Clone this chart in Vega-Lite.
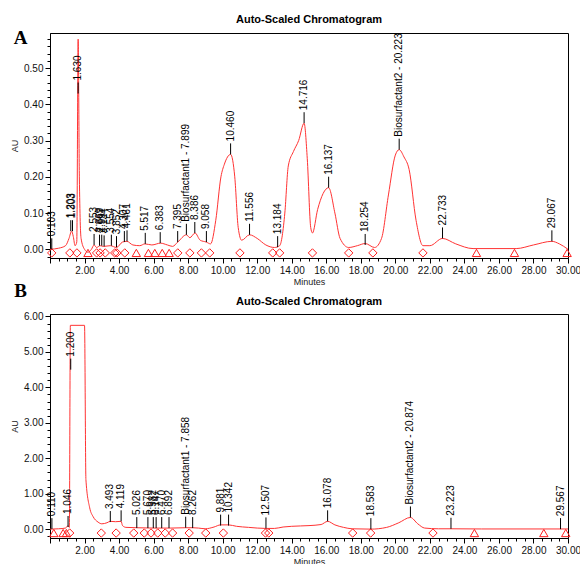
{
  "$schema": "https://vega.github.io/schema/vega-lite/v6.json",
  "padding": {"left": 10, "top": 13, "right": 0, "bottom": 0},
  "config": {
    "font": "Liberation Sans",
    "view": {"stroke": "black", "strokeWidth": 1},
    "title": {"fontSize": 11, "fontWeight": "bold", "font": "Liberation Sans", "color": "#000", "offset": 4},
    "axis": {"domainColor": "#000", "tickColor": "#000", "labelColor": "#111", "labelFontSize": 10, "titleFontSize": 9, "titleFontWeight": "normal", "titleColor": "#222", "grid": false, "labelFont": "Liberation Sans", "titleFont": "Liberation Sans"}
  },
  "datasets": {
    "curveA": [
      {"t": 0, "au": 0}, {"t": 0.5, "au": 0.003}, {"t": 0.9, "au": 0.01}, {"t": 1.1, "au": 0.03}, {"t": 1.25, "au": 0.05}, {"t": 1.35, "au": 0.035}, {"t": 1.45, "au": 0.01}, {"t": 1.55, "au": 0.02}, {"t": 1.63, "au": 0.58}, {"t": 1.7, "au": 0.2}, {"t": 1.8, "au": 0.03}, {"t": 2.0, "au": 0.0}, {"t": 2.2, "au": -0.008}, {"t": 2.4, "au": 0.0}, {"t": 2.55, "au": 0.012}, {"t": 2.7, "au": 0.005}, {"t": 2.9, "au": 0.01}, {"t": 3.1, "au": 0.008}, {"t": 3.5, "au": 0.01}, {"t": 3.85, "au": 0.005}, {"t": 4.2, "au": 0.02}, {"t": 4.45, "au": 0.022}, {"t": 4.8, "au": 0.012}, {"t": 5.2, "au": 0.01}, {"t": 5.5, "au": 0.015}, {"t": 5.9, "au": 0.012}, {"t": 6.4, "au": 0.017}, {"t": 6.8, "au": 0.012}, {"t": 7.1, "au": 0.008}, {"t": 7.4, "au": 0.02}, {"t": 7.9, "au": 0.04}, {"t": 8.1, "au": 0.032}, {"t": 8.4, "au": 0.045}, {"t": 8.7, "au": 0.025}, {"t": 9.05, "au": 0.02}, {"t": 9.3, "au": 0.015}, {"t": 9.6, "au": 0.08}, {"t": 9.9, "au": 0.2}, {"t": 10.1, "au": 0.235}, {"t": 10.46, "au": 0.262}, {"t": 10.7, "au": 0.2}, {"t": 10.9, "au": 0.06}, {"t": 11.1, "au": 0.025}, {"t": 11.556, "au": 0.04}, {"t": 12.0, "au": 0.03}, {"t": 12.5, "au": 0.012}, {"t": 13.0, "au": 0.005}, {"t": 13.3, "au": 0.01}, {"t": 13.6, "au": 0.1}, {"t": 13.8, "au": 0.23}, {"t": 14.1, "au": 0.27}, {"t": 14.4, "au": 0.3}, {"t": 14.716, "au": 0.348}, {"t": 14.9, "au": 0.25}, {"t": 15.1, "au": 0.06}, {"t": 15.2, "au": 0.045}, {"t": 15.5, "au": 0.11}, {"t": 16.137, "au": 0.17}, {"t": 16.5, "au": 0.1}, {"t": 16.8, "au": 0.03}, {"t": 17.3, "au": 0.005}, {"t": 17.8, "au": 0.01}, {"t": 18.254, "au": 0.016}, {"t": 18.8, "au": 0.005}, {"t": 19.2, "au": 0.03}, {"t": 19.6, "au": 0.15}, {"t": 20.0, "au": 0.26}, {"t": 20.223, "au": 0.275}, {"t": 20.5, "au": 0.255}, {"t": 20.8, "au": 0.22}, {"t": 21.2, "au": 0.08}, {"t": 21.6, "au": 0.01}, {"t": 22.0, "au": 0.01}, {"t": 22.733, "au": 0.03}, {"t": 23.5, "au": 0.015}, {"t": 24.5, "au": 0.002}, {"t": 27.0, "au": 0.002}, {"t": 28.0, "au": 0.012}, {"t": 29.067, "au": 0.022}, {"t": 29.5, "au": 0.015}, {"t": 30.0, "au": 0.0}
    ],
    "markA": [
      {"t": 0.1, "type": "diamond"}, {"t": 1.15, "type": "diamond"}, {"t": 1.56, "type": "diamond"}, {"t": 2.7, "type": "diamond"}, {"t": 2.9, "type": "diamond"}, {"t": 3.2, "type": "diamond"}, {"t": 3.75, "type": "diamond"}, {"t": 3.87, "type": "diamond"}, {"t": 4.33, "type": "diamond"}, {"t": 7.4, "type": "diamond"}, {"t": 8.1, "type": "diamond"}, {"t": 8.77, "type": "diamond"}, {"t": 9.25, "type": "diamond"}, {"t": 11.0, "type": "diamond"}, {"t": 12.9, "type": "diamond"}, {"t": 13.3, "type": "diamond"}, {"t": 15.2, "type": "diamond"}, {"t": 17.3, "type": "diamond"}, {"t": 18.7, "type": "diamond"}, {"t": 21.6, "type": "diamond"},
      {"t": 2.2, "type": "triangle"}, {"t": 5.0, "type": "triangle"}, {"t": 5.7, "type": "triangle"}, {"t": 6.07, "type": "triangle"}, {"t": 6.5, "type": "triangle"}, {"t": 6.9, "type": "triangle"}, {"t": 24.7, "type": "triangle"}, {"t": 26.9, "type": "triangle"}, {"t": 29.95, "type": "triangle"}
    ],
    "labA": [
      {"t": 0.103, "h": 0.0, "label": "0.103"}, {"t": 1.203, "h": 0.05, "label": "1.203"}, {"t": 1.303, "h": 0.05, "label": "1.303"}, {"t": 1.63, "h": 0.43, "label": "1.630"},
      {"t": 2.553, "h": 0.012, "label": "2.553"}, {"t": 2.869, "h": 0.01, "label": "2.869"}, {"t": 2.997, "h": 0.01, "label": "2.997"}, {"t": 3.134, "h": 0.008, "label": "3.134"}, {"t": 3.554, "h": 0.01, "label": "3.554"}, {"t": 3.852, "h": 0.006, "label": "3.852"}, {"t": 4.307, "h": 0.02, "label": "4.307"}, {"t": 4.461, "h": 0.022, "label": "4.461"},
      {"t": 5.517, "h": 0.015, "label": "5.517"}, {"t": 6.383, "h": 0.017, "label": "6.383"}, {"t": 7.395, "h": 0.02, "label": "7.395"}, {"t": 7.899, "h": 0.04, "label": "Biosurfactant1 - 7.899"}, {"t": 8.386, "h": 0.045, "label": "8.386"}, {"t": 9.058, "h": 0.02, "label": "9.058"}, {"t": 10.46, "h": 0.262, "label": "10.460"}, {"t": 11.556, "h": 0.04, "label": "11.556"}, {"t": 13.184, "h": 0.006, "label": "13.184"}, {"t": 14.716, "h": 0.348, "label": "14.716"}, {"t": 16.137, "h": 0.17, "label": "16.137"}, {"t": 18.254, "h": 0.012, "label": "18.254"}, {"t": 20.223, "h": 0.275, "label": "Biosurfactant2 - 20.223"}, {"t": 22.733, "h": 0.03, "label": "22.733"}, {"t": 29.067, "h": 0.022, "label": "29.067"}
    ],
    "letters": [
      {"letter": "A", "t": -1.7, "au": 0.582},
      {"letter": "B", "t": -1.7, "au": -0.115}
    ],
    "curveB": [
      {"t": 0, "au": 0}, {"t": 0.5, "au": 0.01}, {"t": 0.9, "au": 0.03}, {"t": 1.046, "au": 0.1}, {"t": 1.12, "au": 0.05}, {"t": 1.18, "au": 5.75}, {"t": 2.0, "au": 5.75}, {"t": 2.08, "au": 1.4}, {"t": 2.3, "au": 0.6}, {"t": 2.5, "au": 0.35}, {"t": 2.78, "au": 0.2}, {"t": 3.0, "au": 0.15}, {"t": 3.3, "au": 0.18}, {"t": 3.493, "au": 0.22}, {"t": 3.8, "au": 0.21}, {"t": 4.119, "au": 0.22}, {"t": 4.2, "au": 0.1}, {"t": 4.4, "au": 0.05}, {"t": 5.0, "au": 0.04}, {"t": 6.0, "au": 0.03}, {"t": 7.0, "au": 0.03}, {"t": 7.858, "au": 0.04}, {"t": 8.262, "au": 0.04}, {"t": 8.6, "au": 0.03}, {"t": 9.0, "au": 0.01}, {"t": 9.5, "au": 0.06}, {"t": 9.881, "au": 0.12}, {"t": 10.342, "au": 0.12}, {"t": 10.8, "au": 0.08}, {"t": 11.5, "au": 0.05}, {"t": 12.507, "au": 0.02}, {"t": 13.0, "au": 0.02}, {"t": 13.5, "au": 0.06}, {"t": 14.0, "au": 0.08}, {"t": 15.0, "au": 0.1}, {"t": 15.7, "au": 0.13}, {"t": 16.078, "au": 0.22}, {"t": 16.5, "au": 0.12}, {"t": 17.0, "au": 0.05}, {"t": 17.5, "au": 0.01}, {"t": 18.583, "au": 0.0}, {"t": 19.5, "au": 0.05}, {"t": 20.2, "au": 0.18}, {"t": 20.874, "au": 0.33}, {"t": 21.3, "au": 0.15}, {"t": 21.7, "au": 0.03}, {"t": 22.5, "au": 0.01}, {"t": 23.223, "au": 0.01}, {"t": 25.0, "au": 0.005}, {"t": 30.0, "au": 0.005}
    ],
    "markB": [
      {"t": 0.22, "type": "triangle"}, {"t": 0.76, "type": "triangle"}, {"t": 0.95, "type": "triangle"}, {"t": 24.58, "type": "triangle"}, {"t": 28.6, "type": "triangle"}, {"t": 29.87, "type": "triangle"},
      {"t": 1.14, "type": "diamond"}, {"t": 2.97, "type": "diamond"}, {"t": 3.83, "type": "diamond"}, {"t": 4.85, "type": "diamond"}, {"t": 5.46, "type": "diamond"}, {"t": 5.85, "type": "diamond"}, {"t": 6.24, "type": "diamond"}, {"t": 6.67, "type": "diamond"}, {"t": 7.1, "type": "diamond"}, {"t": 8.06, "type": "diamond"}, {"t": 9.02, "type": "diamond"}, {"t": 10.04, "type": "diamond"}, {"t": 12.48, "type": "diamond"}, {"t": 12.67, "type": "diamond"}, {"t": 17.53, "type": "diamond"}, {"t": 18.57, "type": "diamond"}, {"t": 22.18, "type": "diamond"}
    ],
    "labB": [
      {"t": 0.11, "h": 0.0, "label": "0.110"}, {"t": 1.046, "h": 0.06, "label": "1.046"}, {"t": 1.2, "h": 4.5, "label": "1.200"}, {"t": 3.493, "h": 0.2, "label": "3.493"}, {"t": 4.119, "h": 0.22, "label": "4.119"}, {"t": 5.026, "h": 0.03, "label": "5.026"}, {"t": 5.67, "h": 0.03, "label": "5.670"}, {"t": 5.982, "h": 0.03, "label": "5.982"}, {"t": 6.147, "h": 0.03, "label": "6.147"}, {"t": 6.47, "h": 0.03, "label": "6.470"}, {"t": 6.892, "h": 0.03, "label": "6.892"}, {"t": 7.858, "h": 0.04, "label": "Biosurfactant1 - 7.858"}, {"t": 8.262, "h": 0.03, "label": "8.262"}, {"t": 9.881, "h": 0.1, "label": "9.881"}, {"t": 10.342, "h": 0.1, "label": "10.342"}, {"t": 12.507, "h": 0.02, "label": "12.507"}, {"t": 16.078, "h": 0.22, "label": "16.078"}, {"t": 18.583, "h": 0.0, "label": "18.583"}, {"t": 20.874, "h": 0.33, "label": "Biosurfactant2 - 20.874"}, {"t": 23.223, "h": 0.01, "label": "23.223"}, {"t": 29.567, "h": 0.0, "label": "29.567"}
    ]
  },
  "vconcat": [
    {
      "title": "Auto-Scaled Chromatogram",
      "width": 518,
      "height": 225,
      "encoding": {
        "x": {"type": "quantitative", "scale": {"domain": [0, 30], "nice": false, "zero": false}, "title": "Minutes",
          "axis": {"values": [0,0.5,1,1.5,2,2.5,3,3.5,4,4.5,5,5.5,6,6.5,7,7.5,8,8.5,9,9.5,10,10.5,11,11.5,12,12.5,13,13.5,14,14.5,15,15.5,16,16.5,17,17.5,18,18.5,19,19.5,20,20.5,21,21.5,22,22.5,23,23.5,24,24.5,25,25.5,26,26.5,27,27.5,28,28.5,29,29.5,30],
            "labelExpr": "datum.value % 2 == 0 && datum.value > 0 ? format(datum.value, '.2f') : ''",
            "tickSize": {"condition": {"test": "datum.value % 2 == 0", "value": 5}, "value": 3},
            "labelFlush": false, "labelOverlap": false, "titlePadding": 2}},
        "y": {"type": "quantitative", "scale": {"domain": [-0.024, 0.597], "nice": false, "zero": false}, "title": "AU",
          "axis": {"values": [-0.02,0,0.02,0.04,0.06,0.08,0.1,0.12,0.14,0.16,0.18,0.2,0.22,0.24,0.26,0.28,0.3,0.32,0.34,0.36,0.38,0.4,0.42,0.44,0.46,0.48,0.5,0.52,0.54,0.56,0.58],
            "labelExpr": "abs(datum.value*10 - round(datum.value*10)) < 0.01 && datum.value >= 0 ? format(datum.value, '.2f') : ''",
            "tickSize": {"condition": {"test": "abs(datum.value*10 - round(datum.value*10)) < 0.01", "value": 5}, "value": 3},
            "labelOverlap": false, "labelFlush": false, "titlePadding": 4}}
      },
      "layer": [
        {"data": {"name": "curveA"}, "mark": {"type": "line", "color": "#ff3333", "strokeWidth": 1, "clip": true, "interpolate": "monotone"}, "encoding": {"x": {"field": "t"}, "y": {"field": "au"}}},
        {"mark": {"type": "rule", "color": "#ff6666", "strokeWidth": 1}, "encoding": {"y": {"datum": 0.004}}},
        {"data": {"name": "markA"}, "mark": {"type": "point", "filled": false, "color": "#ff2020", "strokeWidth": 1, "size": 70, "opacity": 1},
          "encoding": {"x": {"field": "t"}, "y": {"datum": -0.01},
            "shape": {"field": "type", "type": "nominal", "scale": {"domain": ["diamond", "triangle"], "range": ["diamond", "triangle-up"]}, "legend": null}}},
        {"data": {"name": "labA"}, "mark": {"type": "rule", "color": "#000", "strokeWidth": 1, "y2Offset": -11},
          "encoding": {"x": {"field": "t"}, "y": {"field": "h"}, "y2": {"field": "h"}}},
        {"data": {"name": "labA"}, "mark": {"type": "text", "angle": 270, "align": "left", "baseline": "middle", "dx": 13, "fontSize": 10, "color": "#000", "font": "Liberation Sans"},
          "encoding": {"x": {"field": "t"}, "y": {"field": "h"}, "text": {"field": "label"}}},
        {"data": {"name": "letters"},
          "mark": {"type": "text", "font": "Liberation Serif", "fontWeight": "bold", "fontSize": 19, "color": "#000", "align": "center", "baseline": "middle"},
          "encoding": {"x": {"field": "t"}, "y": {"field": "au"}, "text": {"field": "letter"}}}
      ]
    },
    {
      "title": "Auto-Scaled Chromatogram",
      "width": 518,
      "height": 224,
      "encoding": {
        "x": {"type": "quantitative", "scale": {"domain": [0, 30], "nice": false, "zero": false}, "title": "Minutes",
          "axis": {"values": [0,0.5,1,1.5,2,2.5,3,3.5,4,4.5,5,5.5,6,6.5,7,7.5,8,8.5,9,9.5,10,10.5,11,11.5,12,12.5,13,13.5,14,14.5,15,15.5,16,16.5,17,17.5,18,18.5,19,19.5,20,20.5,21,21.5,22,22.5,23,23.5,24,24.5,25,25.5,26,26.5,27,27.5,28,28.5,29,29.5,30],
            "labelExpr": "datum.value % 2 == 0 && datum.value > 0 ? format(datum.value, '.2f') : ''",
            "tickSize": {"condition": {"test": "datum.value % 2 == 0", "value": 5}, "value": 3},
            "labelFlush": false, "labelOverlap": false, "titlePadding": 2}},
        "y": {"type": "quantitative", "scale": {"domain": [-0.25, 6.07], "nice": false, "zero": false}, "title": "AU",
          "axis": {"values": [-0.2,0,0.2,0.4,0.6,0.8,1,1.2,1.4,1.6,1.8,2,2.2,2.4,2.6,2.8,3,3.2,3.4,3.6,3.8,4,4.2,4.4,4.6,4.8,5,5.2,5.4,5.6,5.8,6],
            "labelExpr": "abs(datum.value - round(datum.value)) < 0.01 && datum.value >= 0 ? format(datum.value, '.2f') : ''",
            "tickSize": {"condition": {"test": "abs(datum.value - round(datum.value)) < 0.01", "value": 5}, "value": 3},
            "labelOverlap": false, "labelFlush": false, "titlePadding": 4}}
      },
      "layer": [
        {"data": {"name": "curveB"}, "mark": {"type": "line", "color": "#ff3333", "strokeWidth": 1, "clip": true, "interpolate": "monotone"}, "encoding": {"x": {"field": "t"}, "y": {"field": "au"}}},
        {"mark": {"type": "rule", "color": "#ff0000", "strokeWidth": 1.2}, "encoding": {"y": {"datum": 0.0}}},
        {"data": {"name": "markB"}, "mark": {"type": "point", "filled": false, "color": "#ff2020", "strokeWidth": 1, "size": 70, "opacity": 1},
          "encoding": {"x": {"field": "t"}, "y": {"datum": -0.11},
            "shape": {"field": "type", "type": "nominal", "scale": {"domain": ["diamond", "triangle"], "range": ["diamond", "triangle-up"]}, "legend": null}}},
        {"data": {"name": "labB"}, "mark": {"type": "rule", "color": "#000", "strokeWidth": 1, "y2Offset": -11},
          "encoding": {"x": {"field": "t"}, "y": {"field": "h"}, "y2": {"field": "h"}}},
        {"data": {"name": "labB"}, "mark": {"type": "text", "angle": 270, "align": "left", "baseline": "middle", "dx": 13, "fontSize": 10, "color": "#000", "font": "Liberation Sans"},
          "encoding": {"x": {"field": "t"}, "y": {"field": "h"}, "text": {"field": "label"}}}
      ]
    }
  ],
  "spacing": -7
}
